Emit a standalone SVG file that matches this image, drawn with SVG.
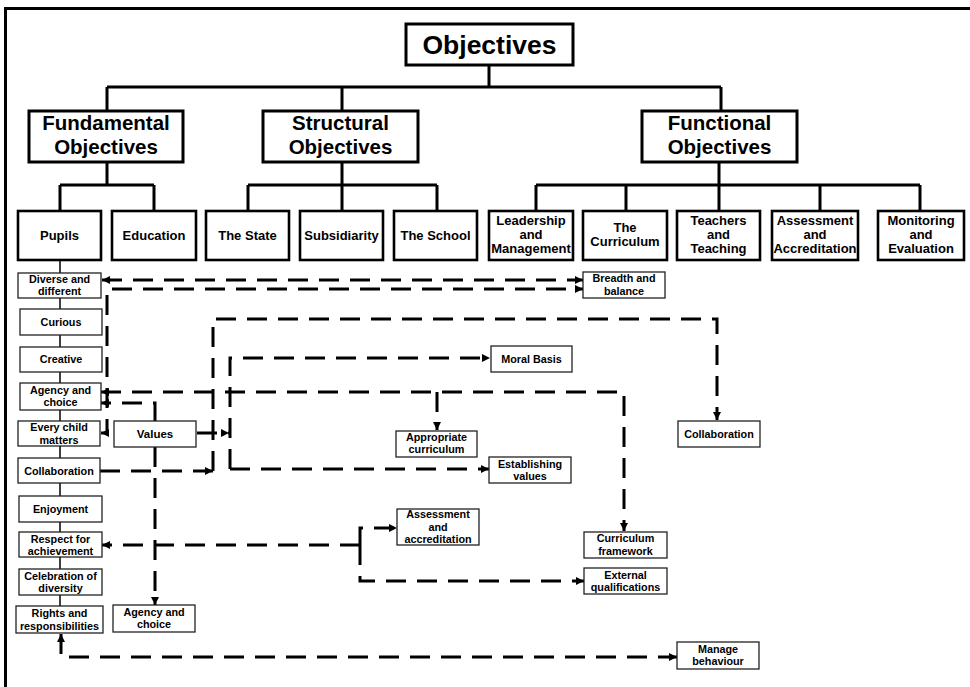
<svg xmlns="http://www.w3.org/2000/svg" width="970" height="687" viewBox="0 0 970 687">
<style>
text{font-family:"Liberation Sans",Arial,sans-serif;font-weight:bold;text-anchor:middle;fill:#000}
.t1{font-size:26.5px}
.t2{font-size:20.5px}
.t3{font-size:13px}
.t4{font-size:10.8px}
.big{fill:#fff;stroke:#000;stroke-width:3}
.med{fill:#fff;stroke:#000;stroke-width:2.6}
.sm{fill:#fff;stroke:#222;stroke-width:1.3}
.tree{fill:none;stroke:#000;stroke-width:3}
.thin{fill:none;stroke:#000;stroke-width:1.5}
.dash{fill:none;stroke:#000;stroke-width:3;stroke-dasharray:20 11}
.frame{fill:none;stroke:#000;stroke-width:3}
</style>
<defs>
<marker id="ah" viewBox="0 0 10 10" refX="10" refY="5" markerWidth="9" markerHeight="8" markerUnits="userSpaceOnUse" orient="auto-start-reverse"><path d="M0,0 L10,5 L0,10 z" fill="#000"/></marker>
</defs>
<rect x="0" y="0" width="970" height="687" fill="#fff"/>
<path class="frame" d="M5.5,687 V8.5 H970"/>
<g id="tree-lines">
<path class="tree" d="M489,65 V87 M107,87 H721 M107,87 V111 M342,87 V111 M721,87 V111"/>
<path class="tree" d="M107,162 V185 M60,185 H154 M60,185 V211 M154,185 V211"/>
<path class="tree" d="M342,162 V185 M248,185 H437 M248,185 V211 M342,185 V211 M437,185 V211"/>
<path class="tree" d="M719,162 V185 M536,185 H920 M536,185 V211 M626,185 V211 M719,185 V211 M820,185 V211 M920,185 V211"/>
<path class="thin" d="M60,260 V606"/>
</g>
<g id="connectors">
<path class="dash" d="M102,280 H583" marker-start="url(#ah)" marker-end="url(#ah)"/>
<path class="dash" d="M101,433 H107 V289 H583" marker-start="url(#ah)" marker-end="url(#ah)"/>
<path class="dash" d="M101,392 H624 V531" marker-start="url(#ah)" marker-end="url(#ah)"/>
<path class="dash" d="M437,392 V430" marker-end="url(#ah)"/>
<path class="dash" d="M155,421 V403 H101" marker-end="url(#ah)"/>
<path class="dash" d="M155,447 V605" marker-end="url(#ah)"/>
<path class="dash" d="M197,433 H229" marker-end="url(#ah)"/>
<path class="dash" d="M230,469 V358 H490" marker-end="url(#ah)"/>
<path class="dash" d="M230,469 H489" marker-end="url(#ah)"/>
<path class="dash" d="M100,471 H213" marker-end="url(#ah)"/>
<path class="dash" d="M213,471 V319 H717 V420" marker-end="url(#ah)"/>
<path class="dash" d="M360,545 H102" marker-end="url(#ah)"/>
<path class="dash" d="M360,545 V528 H397" marker-end="url(#ah)"/>
<path class="dash" d="M360,545 V581 H584" marker-end="url(#ah)"/>
<path class="dash" d="M61,634 V657 H677" marker-start="url(#ah)" marker-end="url(#ah)"/>
</g>
<g id="objectives"><rect class="big" x="406" y="24" width="167" height="41"/><text class="t1" x="489.5" y="54">Objectives</text></g>
<g id="fundamental"><rect class="big" x="29" y="111" width="154" height="51"/><text class="t2" x="106" y="130">Fundamental</text><text class="t2" x="106" y="154">Objectives</text></g>
<g id="structural"><rect class="big" x="263" y="111" width="155" height="51"/><text class="t2" x="340.5" y="130">Structural</text><text class="t2" x="340.5" y="154">Objectives</text></g>
<g id="functional"><rect class="big" x="642" y="111" width="155" height="51"/><text class="t2" x="719.5" y="130">Functional</text><text class="t2" x="719.5" y="154">Objectives</text></g>

<g id="pupils"><rect class="med" x="18" y="211" width="83" height="49"/><text class="t3" x="59.5" y="240">Pupils</text></g>
<g id="education"><rect class="med" x="112" y="211" width="84" height="49"/><text class="t3" x="154" y="240">Education</text></g>
<g id="the-state"><rect class="med" x="206" y="211" width="83" height="49"/><text class="t3" x="247.5" y="240">The State</text></g>
<g id="subsidiarity"><rect class="med" x="300" y="211" width="83" height="49"/><text class="t3" x="341.5" y="240">Subsidiarity</text></g>
<g id="the-school"><rect class="med" x="394" y="211" width="83" height="49"/><text class="t3" x="435.5" y="240">The School</text></g>
<g id="leadership"><rect class="med" x="489" y="211" width="84" height="49"/><text class="t3" x="531" y="225">Leadership</text><text class="t3" x="531" y="239">and</text><text class="t3" x="531" y="253">Management</text></g>
<g id="the-curriculum"><rect class="med" x="583" y="211" width="84" height="49"/><text class="t3" x="625" y="232">The</text><text class="t3" x="625" y="246">Curriculum</text></g>
<g id="teachers"><rect class="med" x="677" y="211" width="83" height="49"/><text class="t3" x="718.5" y="225">Teachers</text><text class="t3" x="718.5" y="239">and</text><text class="t3" x="718.5" y="253">Teaching</text></g>
<g id="assessment-top"><rect class="med" x="772" y="211" width="86" height="49"/><text class="t3" x="815" y="225">Assessment</text><text class="t3" x="815" y="239">and</text><text class="t3" x="815" y="253">Accreditation</text></g>
<g id="monitoring"><rect class="med" x="878" y="211" width="86" height="49"/><text class="t3" x="921" y="225">Monitoring</text><text class="t3" x="921" y="239">and</text><text class="t3" x="921" y="253">Evaluation</text></g>

<g id="diverse"><rect class="sm" x="18" y="273" width="83" height="25"/><text class="t4" x="59.5" y="283">Diverse and</text><text class="t4" x="59.5" y="295">different</text></g>
<g id="curious"><rect class="sm" x="20" y="309" width="82" height="26"/><text class="t4" x="61" y="325.5">Curious</text></g>
<g id="creative"><rect class="sm" x="20" y="347" width="82" height="25"/><text class="t4" x="61" y="363">Creative</text></g>
<g id="agency1"><rect class="sm" x="20" y="383" width="81" height="27"/><text class="t4" x="60.5" y="393.5">Agency and</text><text class="t4" x="60.5" y="406">choice</text></g>
<g id="every-child"><rect class="sm" x="18" y="421" width="82" height="25"/><text class="t4" x="59" y="431">Every child</text><text class="t4" x="59" y="443.5">matters</text></g>
<g id="values"><rect class="sm" x="114" y="421" width="82" height="26"/><text class="t4" x="155" y="437.5" style="font-size:11.5px">Values</text></g>
<g id="collaboration1"><rect class="sm" x="18" y="458" width="82" height="25"/><text class="t4" x="59" y="474.5">Collaboration</text></g>
<g id="enjoyment"><rect class="sm" x="19" y="496" width="83" height="26"/><text class="t4" x="60.5" y="512.5">Enjoyment</text></g>
<g id="respect"><rect class="sm" x="19" y="532" width="83" height="25"/><text class="t4" x="60.5" y="542.5">Respect for</text><text class="t4" x="60.5" y="554.5">achievement</text></g>
<g id="celebration"><rect class="sm" x="19" y="569" width="83" height="26"/><text class="t4" x="60.5" y="580">Celebration of</text><text class="t4" x="60.5" y="592">diversity</text></g>
<g id="rights"><rect class="sm" x="16" y="606" width="87" height="27"/><text class="t4" x="59.5" y="617">Rights and</text><text class="t4" x="59.5" y="629.5">responsibilities</text></g>
<g id="agency2"><rect class="sm" x="113" y="605" width="82" height="27"/><text class="t4" x="154" y="616">Agency and</text><text class="t4" x="154" y="628">choice</text></g>

<g id="breadth"><rect class="sm" x="583" y="272" width="82" height="26"/><text class="t4" x="624" y="282">Breadth and</text><text class="t4" x="624" y="294.5">balance</text></g>
<g id="moral-basis"><rect class="sm" x="491" y="346" width="81" height="26"/><text class="t4" x="531.5" y="362.5">Moral Basis</text></g>
<g id="appropriate"><rect class="sm" x="396" y="431" width="81" height="26"/><text class="t4" x="436.5" y="441">Appropriate</text><text class="t4" x="436.5" y="453">curriculum</text></g>
<g id="establishing"><rect class="sm" x="489" y="457" width="82" height="26"/><text class="t4" x="530" y="467.5">Establishing</text><text class="t4" x="530" y="479.5">values</text></g>
<g id="collaboration2"><rect class="sm" x="678" y="421" width="82" height="26"/><text class="t4" x="719" y="437.5">Collaboration</text></g>
<g id="assessment2"><rect class="sm" x="397" y="509" width="82" height="36"/><text class="t4" x="438" y="518">Assessment</text><text class="t4" x="438" y="530.5">and</text><text class="t4" x="438" y="542.5">accreditation</text></g>
<g id="curriculum-framework"><rect class="sm" x="584" y="532" width="83" height="26"/><text class="t4" x="625.5" y="542">Curriculum</text><text class="t4" x="625.5" y="555">framework</text></g>
<g id="external"><rect class="sm" x="584" y="568" width="83" height="26"/><text class="t4" x="625.5" y="578.5">External</text><text class="t4" x="625.5" y="591">qualifications</text></g>
<g id="manage"><rect class="sm" x="677" y="642" width="82" height="27"/><text class="t4" x="718" y="653">Manage</text><text class="t4" x="718" y="665">behaviour</text></g>
</svg>
